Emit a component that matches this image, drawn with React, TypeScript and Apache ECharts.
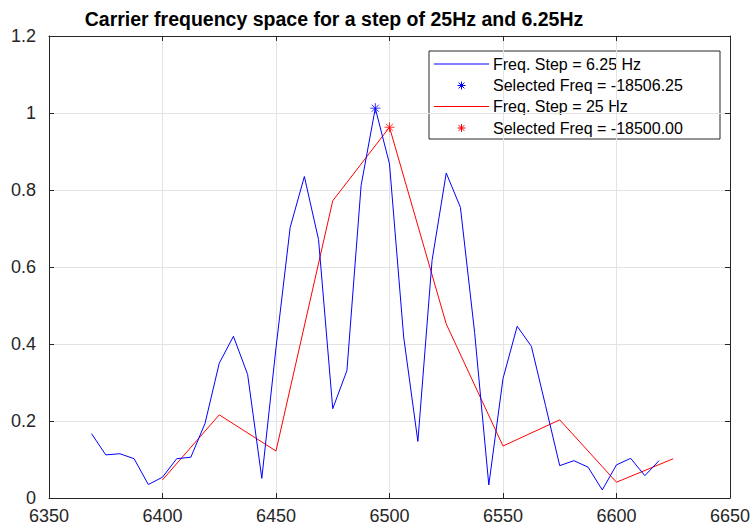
import React, { useEffect, useRef } from "react";
import * as echarts from "echarts";

// Carrier search with a 6.25 Hz step
const fineFreq = [
  6368.75, 6375, 6381.25, 6387.5, 6393.75, 6400, 6406.25, 6412.5, 6418.75, 6425,
  6431.25, 6437.5, 6443.75, 6450, 6456.25, 6462.5, 6468.75, 6475, 6481.25, 6487.5,
  6493.75, 6500, 6506.25, 6512.5, 6518.75, 6525, 6531.25, 6537.5, 6543.75, 6550,
  6556.25, 6562.5, 6568.75, 6575, 6581.25, 6587.5, 6593.75, 6600, 6606.25, 6612.5,
  6618.75,
];
const fineMag = [
  0.167, 0.112, 0.115, 0.102, 0.035, 0.054, 0.102, 0.106, 0.194, 0.35,
  0.42, 0.321, 0.051, 0.39, 0.703, 0.835, 0.671, 0.232, 0.331, 0.812,
  1.0125, 0.868, 0.418, 0.147, 0.617, 0.844, 0.755, 0.43, 0.034, 0.31,
  0.446, 0.394, 0.24, 0.084, 0.097, 0.08, 0.021, 0.086, 0.103, 0.058,
  0.097,
];

// Carrier search with a 25 Hz step
const coarseFreq = [6400, 6425, 6450, 6475, 6500, 6525, 6550, 6575, 6600, 6625];
const coarseMag = [0.047, 0.216, 0.122, 0.772, 0.963, 0.452, 0.135, 0.203, 0.041, 0.102];

// Selected peaks
const fineSelected = [6493.75, 1.0125];
const coarseSelected = [6500, 0.963];

const legendLabels = [
  "Freq. Step = 6.25 Hz",
  "Selected Freq = -18506.25",
  "Freq. Step = 25 Hz",
  "Selected Freq = -18500.00",
];

const titleText = "Carrier frequency space for a step of 25Hz and 6.25Hz";

const BLUE = "#0000ff";
const RED = "#ff0000";
const AXIS = "#262626";
const GRID = "#e3e3e3";
const FONT = "'Liberation Sans', Arial, Helvetica, sans-serif";

const ASTERISK = "path://M5 0L5 10M0 5L10 5M1.5 1.5L8.5 8.5M1.5 8.5L8.5 1.5";

function asterisk(cx: number, cy: number, r: number, color: string) {
  const d = r * 0.72;
  const seg = (x1: number, y1: number, x2: number, y2: number) => ({
    type: "line",
    shape: { x1: cx + x1, y1: cy + y1, x2: cx + x2, y2: cy + y2 },
    style: { stroke: color, lineWidth: 1 },
  });
  return [
    seg(0, -r, 0, r),
    seg(-r, 0, r, 0),
    seg(-d, -d, d, d),
    seg(-d, d, d, -d),
  ];
}

export default function App() {
  const ref = useRef<HTMLDivElement>(null);

  useEffect(() => {
    if (!ref.current) return;
    const chart = echarts.init(ref.current, undefined, { renderer: "svg" });

    const fineData = fineFreq.map((f, i) => [f, fineMag[i]]);
    const coarseData = coarseFreq.map((f, i) => [f, coarseMag[i]]);

    const lx = 429;
    const ly = 51;
    const rowY = [64, 85.5, 106.5, 128];
    const legendColors = [BLUE, BLUE, RED, RED];
    const legendChildren: any[] = [
      {
        type: "rect",
        shape: { x: lx, y: ly, width: 291, height: 88 },
        style: { fill: "#ffffff", stroke: AXIS, lineWidth: 1 },
      },
    ];
    rowY.forEach((y, i) => {
      if (i % 2 === 0) {
        legendChildren.push({
          type: "line",
          shape: { x1: 434, y1: y, x2: 489, y2: y },
          style: { stroke: legendColors[i], lineWidth: 1 },
        });
      } else {
        legendChildren.push(...asterisk(461.5, y, 4, legendColors[i]));
      }
      legendChildren.push({
        type: "text",
        x: 493,
        y,
        style: {
          text: legendLabels[i],
          fill: "#000000",
          font: `16px ${FONT}`,
          verticalAlign: "middle",
          align: "left",
        },
      });
    });

    const xCommon = {
      type: "value",
      min: 6350,
      max: 6650,
      interval: 50,
    };
    const yCommon = {
      type: "value",
      min: 0,
      max: 1.2,
      interval: 0.2,
    };

    chart.setOption({
      animation: false,
      backgroundColor: "#ffffff",
      grid: { left: 49, top: 36, right: 18, bottom: 27, containLabel: false },
      xAxis: [
        {
          ...xCommon,
          position: "bottom",
          axisLine: { show: true, onZero: false, lineStyle: { color: AXIS, width: 1 } },
          axisTick: { show: true, inside: true, length: 5, lineStyle: { color: AXIS } },
          axisLabel: {
            color: AXIS,
            fontFamily: FONT,
            fontSize: 18,
            margin: 9,
            showMinLabel: true,
            showMaxLabel: true,
            formatter: (v: number) => String(v),
          },
          splitLine: { show: true, lineStyle: { color: GRID, width: 1 } },
        },
        {
          ...xCommon,
          position: "top",
          axisLine: { show: true, onZero: false, lineStyle: { color: AXIS, width: 1 } },
          axisTick: { show: true, inside: true, length: 5, lineStyle: { color: AXIS } },
          axisLabel: { show: false },
          splitLine: { show: false },
        },
      ],
      yAxis: [
        {
          ...yCommon,
          position: "left",
          axisLine: { show: true, onZero: false, lineStyle: { color: AXIS, width: 1 } },
          axisTick: { show: true, inside: true, length: 5, lineStyle: { color: AXIS } },
          axisLabel: {
            color: AXIS,
            fontFamily: FONT,
            fontSize: 18,
            margin: 13,
            formatter: (v: number) => String(Math.round(v * 10) / 10),
          },
          splitLine: { show: true, lineStyle: { color: GRID, width: 1 } },
        },
        {
          ...yCommon,
          position: "right",
          axisLine: { show: true, onZero: false, lineStyle: { color: AXIS, width: 1 } },
          axisTick: { show: true, inside: true, length: 5, lineStyle: { color: AXIS } },
          axisLabel: { show: false },
          splitLine: { show: false },
        },
      ],
      series: [
        {
          name: legendLabels[0],
          type: "line",
          data: fineData,
          xAxisIndex: 0,
          yAxisIndex: 0,
          showSymbol: false,
          symbol: "none",
          lineStyle: { color: BLUE, width: 1 },
          z: 3,
        },
        {
          name: legendLabels[2],
          type: "line",
          data: coarseData,
          xAxisIndex: 0,
          yAxisIndex: 0,
          showSymbol: false,
          symbol: "none",
          lineStyle: { color: RED, width: 1 },
          z: 2,
        },
        {
          name: legendLabels[1],
          type: "scatter",
          data: [fineSelected],
          xAxisIndex: 0,
          yAxisIndex: 0,
          symbol: ASTERISK,
          symbolSize: 10,
          itemStyle: { color: "none", borderColor: BLUE, borderWidth: 1 },
          z: 4,
        },
        {
          name: legendLabels[3],
          type: "scatter",
          data: [coarseSelected],
          xAxisIndex: 0,
          yAxisIndex: 0,
          symbol: ASTERISK,
          symbolSize: 10,
          itemStyle: { color: "none", borderColor: RED, borderWidth: 1 },
          z: 4,
        },
      ],
      graphic: [
        {
          type: "text",
          x: 334,
          y: 19,
          style: {
            text: titleText,
            fill: "#000000",
            font: `bold 19.5px ${FONT}`,
            align: "center",
            verticalAlign: "middle",
          },
        },
        { type: "group", z: 100, children: legendChildren },
      ],
    });

    return () => chart.dispose();
  }, []);

  return (
    <div
      ref={ref}
      style={{ position: "fixed", left: 0, top: 0, width: 753, height: 525 }}
    />
  );
}
